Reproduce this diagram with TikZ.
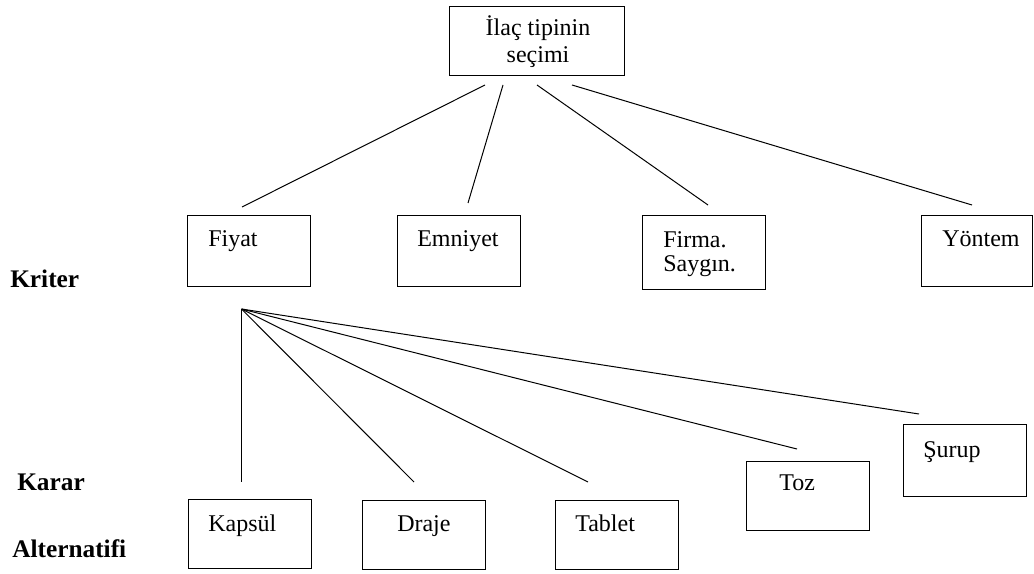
\documentclass[tikz,border=0pt]{standalone}
\usepackage{fontspec}
\setmainfont{Liberation Serif}
\begin{document}
\begin{tikzpicture}[x=0.75pt,y=-0.75pt,
  box/.style={draw, line width=1pt, rectangle, anchor=north west, inner sep=0pt, minimum width=92pt},
  lbl/.style={anchor=base west, inner sep=0pt, font=\fontsize{18}{20}\selectfont},
  clbl/.style={anchor=base, inner sep=0pt, font=\fontsize{18}{20}\selectfont},
  side/.style={anchor=base west, inner sep=0pt, font=\fontsize{19}{22}\selectfont\bfseries},
  link/.style={line width=0.75pt}]
\useasboundingbox (0,0) rectangle (1034,574);
% boxes
\node[box, minimum width=131.25pt, minimum height=51.75pt] (top) at (449,6) {};
\node[box, minimum height=53.25pt] (fiyat) at (187,215) {};
\node[box, minimum height=53.25pt] (emniyet) at (397,215) {};
\node[box, minimum height=55.5pt] (firma) at (642,215) {};
\node[box, minimum width=83.25pt, minimum height=53.25pt] (yontem) at (921,215) {};
\node[box, minimum height=51.75pt] (kapsul) at (188,499) {};
\node[box, minimum height=51.75pt] (draje) at (362,500) {};
\node[box, minimum height=51.75pt] (tablet) at (555,500) {};
\node[box, minimum height=51.75pt] (toz) at (746,461) {};
\node[box, minimum height=54pt] (surup) at (903,424) {};
% texts
\node[clbl] (topA) at (538,36) {İlaç tipinin};
\node[clbl] (topB) at (538,63) {seçimi};
\node[lbl] (fiyatT) at (208,246) {Fiyat};
\node[lbl] (emniyetT) at (417,246) {Emniyet};
\node[lbl] (firmaA) at (663,247) {Firma.};
\node[lbl] (firmaB) at (663,271) {Saygın.};
\node[lbl] (yontemT) at (942,246) {Yöntem};
\node[lbl] (kapsulT) at (208,531) {Kapsül};
\node[lbl] (drajeT) at (397,531) {Draje};
\node[lbl] (tabletT) at (575,531) {Tablet};
\node[lbl] (tozT) at (779,490) {Toz};
\node[lbl] (surupT) at (923,457) {Şurup};
\node[side] (kriter) at (10,287) {Kriter};
\node[side] (karar) at (17,490) {Karar};
\node[side] (altern) at (12,557) {Alternatifi};
% connector end points
\coordinate (s1) at (485,85);
\coordinate (s2) at (503,85);
\coordinate (s3) at (537,85);
\coordinate (s4) at (572,85);
\coordinate (e1) at (242,207);
\coordinate (e2) at (468,203);
\coordinate (e3) at (708,205);
\coordinate (e4) at (972,205);
\coordinate (apex) at (241.5,309);
\coordinate (f1) at (241.5,482);
\coordinate (f2) at (414,482);
\coordinate (f3) at (588,482);
\coordinate (f4) at (797,449);
\coordinate (f5) at (919,414);
% connectors
\draw[link] (s1) -- (e1);
\draw[link] (s2) -- (e2);
\draw[link] (s3) -- (e3);
\draw[link] (s4) -- (e4);
\foreach \f in {f1,f2,f3,f4,f5} \draw[link] (apex) -- (\f);
\end{tikzpicture}
\end{document}
